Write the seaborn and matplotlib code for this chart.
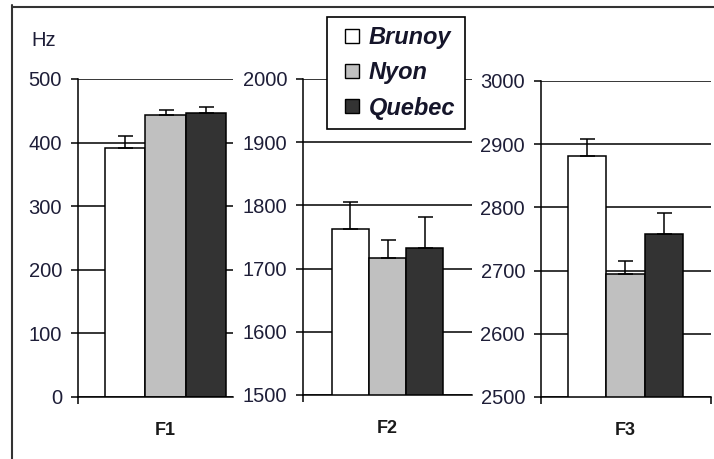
import matplotlib
matplotlib.use("Agg")
import matplotlib.pyplot as plt
from matplotlib.lines import Line2D
import seaborn as sns
import pandas as pd

# ---- data ----
cities = ["Brunoy", "Nyon", "Quebec"]
colors = ["#ffffff", "#c0c0c0", "#333333"]
formants = ["F1", "F2", "F3"]
f1_means = [391, 444, 447]
f1_errs = [20, 7, 9]
f2_means = [1762, 1716, 1732]
f2_errs = [43, 29, 49]
f3_means = [2881, 2695, 2758]
f3_errs = [27, 20, 33]
ylims = [(0, 500), (1500, 2000), (2500, 3000)]
yticks = [list(range(0, 501, 100)), list(range(1500, 2001, 100)), list(range(2500, 3001, 100))]

means = [f1_means, f2_means, f3_means]
errs = [f1_errs, f2_errs, f3_errs]

sns.set_style("ticks")
plt.rcParams["font.family"] = ["Liberation Sans", "DejaVu Sans"]

W, H = 714, 459
fig = plt.figure(figsize=(W / 100, H / 100), dpi=100)

# axes rectangles in pixels: (left, top, right, bottom)
rects_px = [(78, 79, 233, 397), (303, 79, 472, 395), (541, 81, 711, 397)]
xlims = [(-0.579, 0.446), (-0.609, 0.609), (-0.588, 0.595)]
tick_color = "#1e1e38"
LW = 1.1

for i, (l, t, r, b) in enumerate(rects_px):
    ax = fig.add_axes([l / W, (H - b) / H, (r - l) / W, (b - t) / H])
    df = pd.DataFrame({"formant": [formants[i]] * 3, "city": cities, "value": means[i]})
    sns.barplot(data=df, x="formant", y="value", hue="city", hue_order=cities,
                palette=colors, saturation=1, edgecolor="black", linewidth=LW,
                errorbar=None, width=0.8, gap=0, legend=False, ax=ax, zorder=2)
    # upper-only error bars
    xs = [p.get_x() + p.get_width() / 2 for p in ax.patches]
    ax.errorbar(xs, means[i], yerr=[[0] * 3, errs[i]], fmt="none", ecolor="black",
                elinewidth=LW, capsize=5.4, capthick=LW, zorder=3)
    ax.set_ylim(*ylims[i])
    ax.set_xlim(*xlims[i])
    ax.set_yticks(yticks[i])
    ax.yaxis.grid(True, color="black", linewidth=LW)
    ax.set_axisbelow(True)
    for s in ["top", "right"]:
        ax.spines[s].set_visible(False)
    for s in ["left", "bottom"]:
        ax.spines[s].set_linewidth(LW)
        ax.spines[s].set_color("black")
    ax.tick_params(axis="y", direction="out", length=5, width=LW, pad=6.5,
                   labelsize=14.5, labelcolor=tick_color, color="black")
    ax.tick_params(axis="x", which="major", length=0, pad=18, labelsize=13)
    for lab in ax.get_xticklabels():
        lab.set_fontweight("bold")
        lab.set_color("#1a1a1a")
    minor = [xlims[i][0]] if i < 2 else [xlims[i][0], xlims[i][1]]
    ax.set_xticks(minor, minor=True)
    ax.tick_params(axis="x", which="minor", direction="out", length=5, width=LW, color="black")
    ax.set_xlabel("")
    ax.set_ylabel("")

# outer frame (left and top edges)
fig.add_artist(Line2D([12 / W, 12 / W], [0, 1 - 5 / H], color="#333333", lw=1.5))
fig.add_artist(Line2D([12 / W, 1], [1 - 7 / H, 1 - 7 / H], color="#333333", lw=1.5))

fig.text(44 / W, 1 - 40 / H, "Hz", ha="center", va="center", fontsize=14.5, color=tick_color)

handles = [Line2D([], [], marker="s", ls="none", markersize=9.5, markerfacecolor=c,
                  markeredgecolor="black", markeredgewidth=1.0) for c in colors]
leg = fig.legend(handles, cities, loc="upper left", bbox_to_anchor=(327 / W, 1 - 17 / H),
                 frameon=True, fancybox=False, edgecolor="black", framealpha=1,
                 prop={"size": 17, "weight": "bold", "style": "italic"},
                 handlelength=1.35, handletextpad=0.05, labelspacing=0.52,
                 borderpad=0.38, borderaxespad=0)
leg.get_frame().set_linewidth(1.2)
for txt in leg.get_texts():
    txt.set_color("#15152a")

fig.savefig("out.png", dpi=100)
